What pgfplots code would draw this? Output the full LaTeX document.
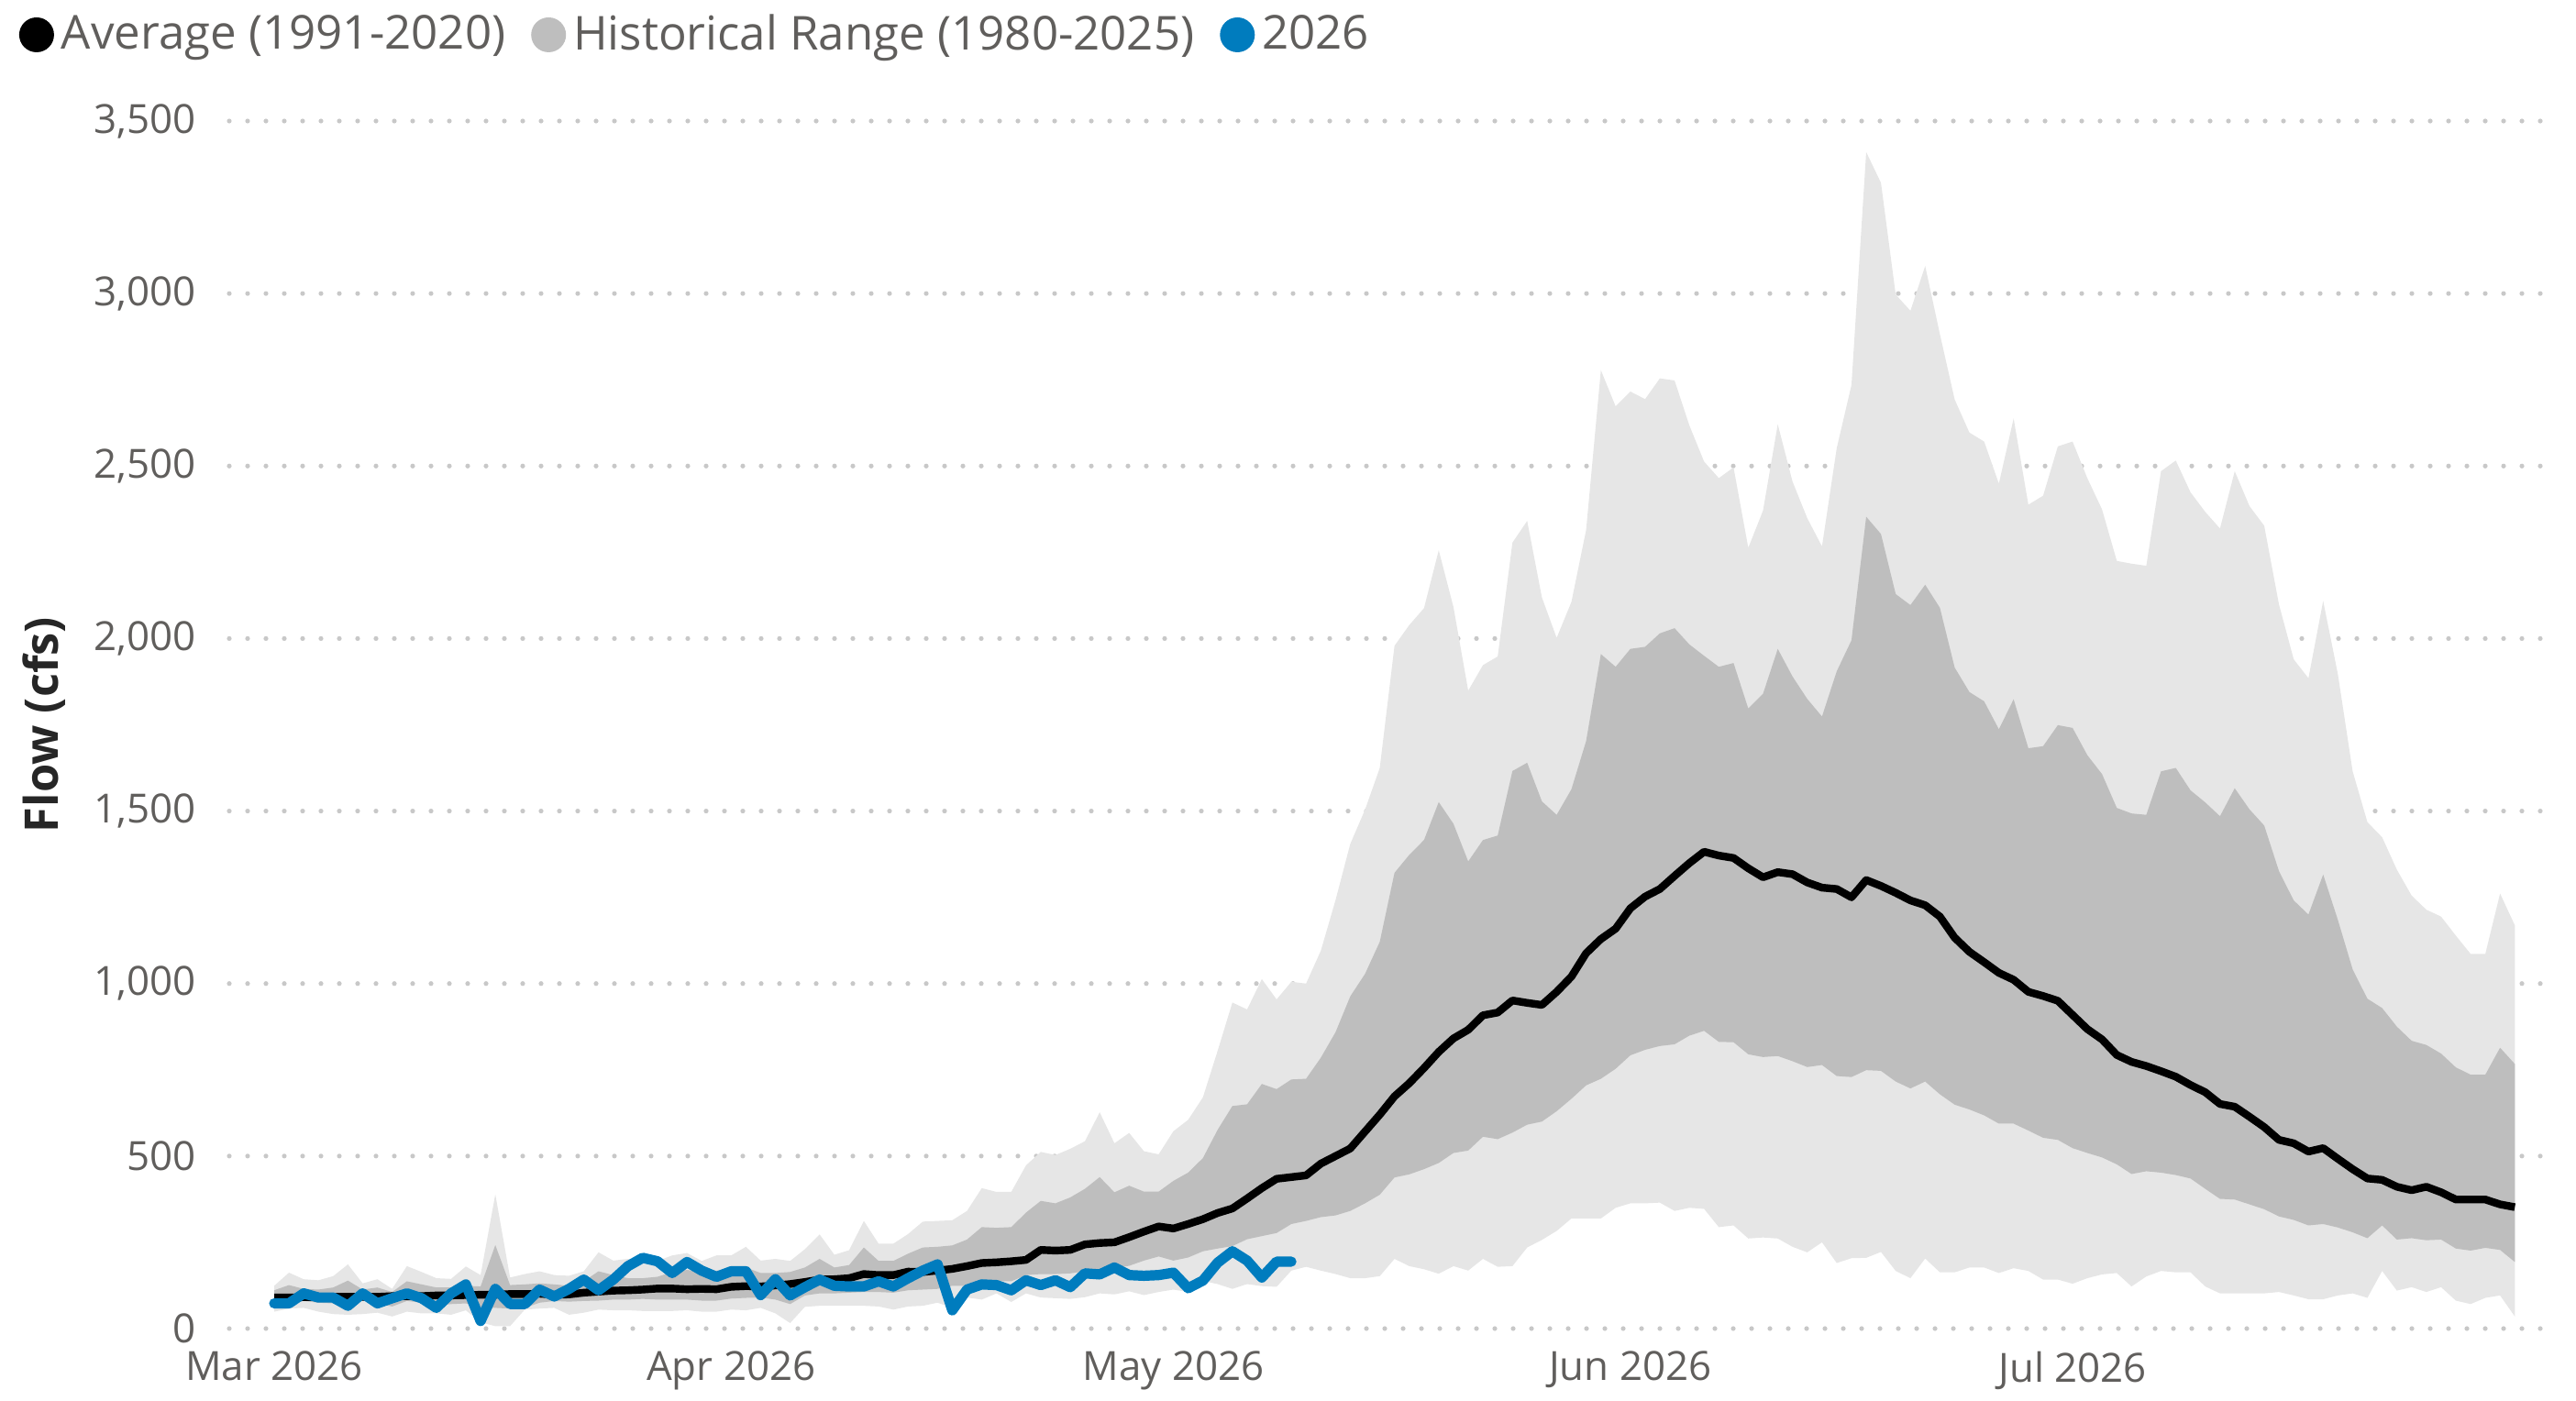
\documentclass[border=0pt]{standalone}
\usepackage{fontspec}
\setmainfont{Open Sans}
\usepackage{pgfplots}
\pgfplotsset{compat=1.18}
\usepackage{pgfplotstable}
\usepgfplotslibrary{fillbetween}
\definecolor{lightband}{RGB}{230,230,230}
\definecolor{darkband}{RGB}{190,190,190}
\definecolor{blueline}{RGB}{0,124,190}
\definecolor{txtgray}{RGB}{96,94,92}
\definecolor{gridgray}{RGB}{200,200,200}

\pgfplotstableread{
d mn lo avg hi mx
0 49 73 90 111 124
1 58 74 90 126 162
2 60 80 91 115 143
3 49 75 91 113 140
4 42 73 92 119 152
5 40 73 92 139 186
6 42 81 92 113 131
7 46 73 92 119 143
8 35 64 94 106 115
9 49 80 94 137 181
10 44 75 94 128 164
11 44 66 96 119 146
12 40 71 96 119 144
13 53 73 97 124 180
14 18 60 98 122 155
15 7 60 98 242 389
16 7 58 100 126 148
17 55 60 100 128 158
18 58 75 101 131 166
19 60 80 98 128 155
20 40 78 99 124 153
21 46 80 104 137 166
22 55 81 107 166 221
23 53 84 110 155 197
24 53 84 111 146 202
25 51 86 113 146 188
26 51 84 116 150 196
27 51 84 116 164 212
28 53 84 114 170 219
29 49 81 115 164 196
30 49 81 114 168 212
31 55 87 121 170 212
32 53 89 123 177 237
33 60 90 122 161 197
34 44 84 125 161 202
35 16 71 129 164 196
36 63 96 135 177 230
37 66 102 142 202 273
38 66 102 143 177 214
39 66 104 146 184 227
40 66 106 158 235 312
41 64 106 155 196 246
42 55 104 155 196 246
43 64 111 165 217 274
44 66 113 164 235 310
45 75 115 168 237 312
46 60 124 173 241 314
47 90 124 181 258 341
48 84 128 190 294 407
49 102 137 192 292 396
50 77 137 195 294 396
51 102 155 199 336 473
52 90 158 228 370 512
53 88 158 226 363 503
54 86 160 228 380 521
55 91 166 244 405 543
56 102 170 248 439 627
57 99 175 250 395 537
58 108 182 265 414 567
59 97 197 281 397 514
60 106 209 296 397 505
61 113 197 290 428 572
62 106 206 303 452 605
63 138 224 317 494 670
64 129 232 335 576 805
65 115 239 348 645 945
66 129 259 377 650 925
67 123 268 407 709 1013
68 121 277 434 694 954
69 168 303 439 722 1005
70 179 312 444 724 1000
71 168 323 478 785 1095
72 158 328 500 859 1242
73 146 341 522 963 1405
74 146 363 571 1028 1504
75 152 388 620 1121 1625
76 202 438 673 1321 1979
77 181 447 711 1373 2039
78 172 462 755 1416 2088
79 159 480 802 1526 2256
80 181 509 841 1463 2091
81 168 516 866 1354 1849
82 202 556 908 1416 1923
83 179 549 916 1429 1948
84 181 568 951 1616 2278
85 235 591 944 1640 2341
86 257 600 938 1528 2119
87 283 630 976 1489 2002
88 319 666 1020 1563 2106
89 319 705 1088 1703 2315
90 319 724 1129 1955 2778
91 350 753 1159 1918 2673
92 363 792 1218 1970 2716
93 363 808 1252 1976 2694
94 365 819 1274 2015 2754
95 341 824 1312 2030 2748
96 350 849 1349 1983 2618
97 347 863 1382 1950 2513
98 294 831 1371 1918 2465
99 299 830 1364 1929 2496
100 261 795 1334 1797 2263
101 264 787 1308 1840 2371
102 261 790 1323 1970 2621
103 237 775 1317 1890 2455
104 221 758 1293 1825 2349
105 250 764 1278 1774 2267
106 190 732 1274 1905 2552
107 204 729 1250 1995 2735
108 205 749 1300 2353 3410
109 222 747 1283 2303 3321
110 167 716 1263 2129 2997
111 146 696 1241 2097 2950
112 203 716 1227 2156 3080
113 163 679 1194 2089 2882
114 163 649 1133 1916 2693
115 177 635 1092 1845 2597
116 177 618 1062 1818 2571
117 161 594 1031 1737 2449
118 175 594 1011 1824 2638
119 167 574 976 1682 2388
120 142 553 964 1688 2414
121 142 547 950 1749 2557
122 130 523 909 1741 2571
123 146 509 868 1662 2465
124 157 496 838 1607 2374
125 161 476 793 1509 2225
126 122 448 773 1493 2217
127 151 456 761 1489 2211
128 167 452 746 1615 2485
129 163 445 730 1625 2516
130 163 435 706 1560 2424
131 122 405 685 1525 2367
132 102 376 651 1485 2319
133 102 374 643 1566 2485
134 102 360 614 1505 2384
135 102 346 584 1458 2327
136 106 325 547 1326 2099
137 96 315 537 1241 1940
138 85 299 513 1200 1885
139 85 303 523 1316 2109
140 96 293 492 1184 1896
141 102 279 462 1041 1615
142 89 262 435 956 1468
143 167 299 431 929 1424
144 110 258 411 875 1330
145 120 262 401 834 1255
146 106 256 411 822 1214
147 120 258 395 797 1194
148 81 232 374 757 1139
149 71 226 374 736 1086
150 89 234 374 736 1086
151 96 228 360 814 1261
152 35 193 352 767 1169
}\hist

\pgfplotstableread{
d v
0 73
1 73
2 102
3 90
4 90
5 66
6 102
7 73
8 88
9 102
10 88
11 60
12 102
13 128
14 22
15 115
16 71
17 71
18 113
19 93
20 115
21 142
22 111
23 142
24 181
25 205
26 195
27 161
28 193
29 168
30 150
31 166
32 166
33 97
34 143
35 96
36 120
37 142
38 124
39 122
40 122
41 137
42 122
43 146
44 168
45 186
46 53
47 113
48 128
49 126
50 111
51 140
52 126
53 140
54 120
55 160
56 157
57 177
58 155
59 153
60 155
61 162
62 117
63 139
64 191
65 224
66 197
67 148
68 194
69 194
}\cur

\begin{document}
\begin{tikzpicture}
\begin{axis}[
  at={(0,0)}, anchor=south west,
  scale only axis, width=631.5bp, height=329.25bp,
  xmin=-3.05, xmax=154.1, ymin=0, ymax=3500,
  axis line style={draw=none},
  major tick length=0pt,
  ytick={0,500,...,3500},
  ymajorgrids,
  grid style={gridgray, line width=1.3bp, line cap=round, dash pattern=on 0bp off 5bp},
  xtick={0,31,61,92,122},
  xticklabels={Mar 2026,Apr 2026,May 2026,Jun 2026,Jul 2026},
  tick label style={font=\fontsize{11}{13}\selectfont, text=txtgray},
  yticklabel style={inner sep=0pt, anchor=east, xshift=-9bp},
  xticklabel style={inner sep=0pt, anchor=north, yshift=-6bp},
  /pgf/number format/assume math mode=true,
  /pgf/number format/1000 sep={,},
  ylabel={Flow (cfs)},
  ylabel style={font=\bfseries\fontsize{12.7}{15}\selectfont, text=black!85, at={(rel axis cs:-0.080,0.5)}, anchor=center},
  legend style={at={(rel axis cs:-0.091,1.0714)}, anchor=west, legend columns=-1, draw=none, fill=none,
    font=\fontsize{12.8}{15}\selectfont, text=txtgray, inner sep=0pt,
    /tikz/every even column/.append style={column sep=5bp}},
  legend image code/.code={\fill[#1, draw=none] (4.75bp,0bp) circle (4.75bp);},
]
\addplot[name path=mx, draw=none, forget plot] table[x=d,y=mx]{\hist};
\addplot[name path=mn, draw=none, forget plot] table[x=d,y=mn]{\hist};
\addplot[fill=lightband, draw=none, forget plot] fill between[of=mx and mn];
\addplot[name path=hi, draw=none, forget plot] table[x=d,y=hi]{\hist};
\addplot[name path=lo, draw=none, forget plot] table[x=d,y=lo]{\hist};
\addplot[fill=darkband, draw=none, forget plot] fill between[of=hi and lo];
\addplot[black, line width=2.1bp, line join=round, forget plot] table[x=d,y=avg]{\hist};
\addplot[blueline, line width=2.8bp, line join=round, line cap=round, forget plot] table[x=d,y=v]{\cur};
\addlegendimage{fill=black, draw=none}
\addlegendentry{Average (1991-2020)}
\addlegendimage{fill=darkband, draw=none}
\addlegendentry{Historical Range (1980-2025)}
\addlegendimage{fill=blueline, draw=none}
\addlegendentry{2026}
\end{axis}
\path (-62.5bp,-19.75bp) rectangle (639.75bp,362.25bp);
\end{tikzpicture}
\end{document}
